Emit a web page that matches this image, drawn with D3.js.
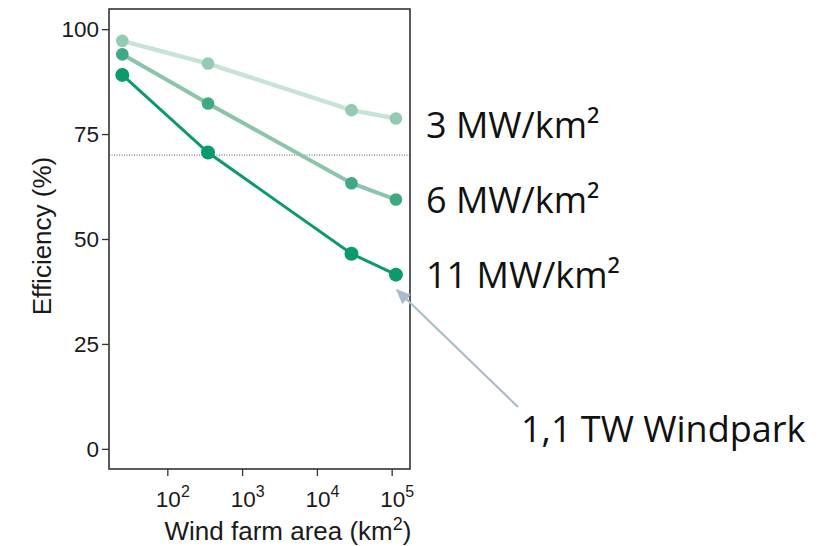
<!DOCTYPE html>
<html>
<head>
<meta charset="utf-8">
<script src="https://cdn.jsdelivr.net/npm/d3@7"></script>
<style>
  body { margin: 0; background: #fff; }
  svg { display: block; }
</style>
</head>
<body>
<div id="chart"></div>
<script>
// wind farm area (km²) and efficiency (%) per power density
const area = [25, 350, 29000, 114000];
const eff3 = [97.2, 91.8, 80.7, 78.7];
const eff6 = [94.0, 82.3, 63.3, 59.4];
const eff11 = [89.1, 70.6, 46.5, 41.5];
const seriesNames = ["3 MW/km²", "6 MW/km²", "11 MW/km²"];
const threshold = 70;
const yTicks = [0, 25, 50, 75, 100];
const xTicks = [1e2, 1e3, 1e4, 1e5];

(function () {
  const W = 831, H = 546;
  const box = { left: 109, right: 410, top: 9, bottom: 469 };

  const svg = d3.select("#chart").append("svg")
    .attr("width", W).attr("height", H);

  const x = d3.scaleLog()
    .domain([16.6, 175800])
    .range([box.left, box.right]);

  const y = d3.scaleLinear()
    .domain([-4.8, 104.8])
    .range([box.bottom, box.top]);

  const axisFont = "'Liberation Sans', Arial, sans-serif";

  // y axis
  const gy = svg.append("g")
    .attr("transform", `translate(${box.left},0)`)
    .call(d3.axisLeft(y).tickValues(yTicks).tickSize(7).tickPadding(3));
  gy.select(".domain").remove();
  gy.selectAll(".tick line").attr("stroke", "#333").attr("stroke-width", 1.3);
  gy.selectAll("text")
    .attr("fill", "#1a1a1a")
    .style("font-family", axisFont)
    .style("font-size", "22.5px");

  // x axis with 10^n labels
  const gx = svg.append("g")
    .attr("transform", `translate(0,${box.bottom})`)
    .call(d3.axisBottom(x).tickValues(xTicks).tickSize(7).tickFormat(""));
  gx.select(".domain").remove();
  gx.selectAll(".tick line").attr("stroke", "#333").attr("stroke-width", 1.3);
  gx.selectAll(".tick").append("text")
    .attr("y", 38)
    .attr("x", 5)
    .attr("fill", "#1a1a1a")
    .attr("text-anchor", "middle")
    .style("font-family", axisFont)
    .style("font-size", "22.5px")
    .each(function (d) {
      const t = d3.select(this);
      t.append("tspan").text("10");
      t.append("tspan")
        .attr("dy", -10)
        .style("font-size", "16px")
        .text(Math.round(Math.log10(d)));
    });

  // threshold line
  svg.append("line")
    .attr("x1", box.left).attr("x2", box.right)
    .attr("y1", y(threshold)).attr("y2", y(threshold))
    .attr("stroke", "#555")
    .attr("stroke-width", 1)
    .attr("stroke-dasharray", "1,1.5");

  // series
  const series = [
    { name: seriesNames[0], values: eff3, line: "#c6e3d5", point: "#92cbb1", lw: 4.5, r: 6.3 },
    { name: seriesNames[1], values: eff6, line: "#8cc4a9", point: "#3ea982", lw: 4, r: 6.3 },
    { name: seriesNames[2], values: eff11, line: "#0a9a6c", point: "#0a9a6c", lw: 3, r: 7 }
  ];

  const line = d3.line()
    .x((d, i) => x(area[i]))
    .y(d => y(d));

  series.forEach(s => {
    svg.append("path")
      .datum(s.values)
      .attr("fill", "none")
      .attr("stroke", s.line)
      .attr("stroke-width", s.lw)
      .attr("d", line);
    svg.append("g")
      .selectAll("circle")
      .data(s.values)
      .join("circle")
        .attr("cx", (d, i) => x(area[i]))
        .attr("cy", d => y(d))
        .attr("r", s.r)
        .attr("fill", s.point);
  });

  // panel border
  svg.append("rect")
    .attr("x", box.left).attr("y", box.top)
    .attr("width", box.right - box.left)
    .attr("height", box.bottom - box.top)
    .attr("fill", "none")
    .attr("stroke", "#333")
    .attr("stroke-width", 1.6);

  // axis titles
  svg.append("text")
    .attr("transform", "translate(51,236) rotate(-90)")
    .attr("text-anchor", "middle")
    .attr("fill", "#1a1a1a")
    .style("font-family", axisFont)
    .style("font-size", "26px")
    .text("Efficiency (%)");

  const xt = svg.append("text")
    .attr("x", 288).attr("y", 540)
    .attr("text-anchor", "middle")
    .attr("fill", "#1a1a1a")
    .style("font-family", axisFont)
    .style("font-size", "26px");
  xt.append("tspan").text("Wind farm area (km");
  xt.append("tspan").attr("dy", -10).style("font-size", "18px").text("2");
  xt.append("tspan").attr("dy", 10).text(")");

  // right-hand series labels
  const labelFont = "'Open Sans', 'Noto Sans', sans-serif";
  const labelBase = [138, 213, 288];
  series.forEach((s, i) => {
    svg.append("text")
      .attr("x", 426).attr("y", labelBase[i])
      .attr("fill", "#111")
      .style("font-family", labelFont)
      .style("font-size", "36px")
      .text(s.name);
  });

  // annotation arrow
  svg.append("defs").append("marker")
    .attr("id", "arrow")
    .attr("viewBox", "0 0 10 10")
    .attr("refX", 9).attr("refY", 5)
    .attr("markerWidth", 15).attr("markerHeight", 13)
    .attr("markerUnits", "userSpaceOnUse")
    .attr("orient", "auto")
    .attr("preserveAspectRatio", "none")
    .append("path")
      .attr("d", "M0,0 L10,5 L0,10 Z")
      .attr("fill", "#a8bccb");

  svg.append("line")
    .attr("x1", 518).attr("y1", 407)
    .attr("x2", 397).attr("y2", 290)
    .attr("stroke", "#a8bccb")
    .attr("stroke-width", 2)
    .attr("marker-end", "url(#arrow)");

  svg.append("text")
    .attr("x", 521).attr("y", 442)
    .attr("fill", "#111")
    .style("font-family", labelFont)
    .style("font-size", "36px")
    .text("1,1 TW Windpark");
})();
</script>
</body>
</html>
